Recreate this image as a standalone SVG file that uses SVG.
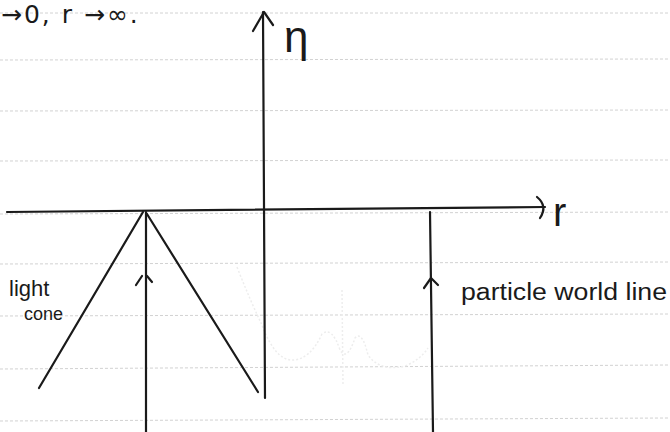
<svg xmlns="http://www.w3.org/2000/svg" width="670" height="432" viewBox="0 0 670 432">
<style>
.rule{stroke:#d2d2d2;stroke-width:1;stroke-dasharray:3 2}
.ink{stroke:#1a1a1a;stroke-width:2.2;fill:none;stroke-linecap:round;stroke-linejoin:round}
.faint{stroke:#ededed;stroke-width:1.5;fill:none;stroke-dasharray:2 2}
.lbl{font-family:"Liberation Sans","DejaVu Sans",sans-serif;fill:#1a1a1a}
.hdr{font-family:"DejaVu Sans","Liberation Sans",sans-serif;fill:#1a1a1a}
</style>
<rect width="670" height="432" fill="#ffffff"/>
<g id="ruled-lines">
<line class="rule" x1="0" y1="13" x2="670" y2="13"/>
<line class="rule" x1="0" y1="60" x2="670" y2="59"/>
<line class="rule" x1="0" y1="111" x2="670" y2="110"/>
<line class="rule" x1="0" y1="161" x2="670" y2="160"/>
<line class="rule" x1="0" y1="214" x2="670" y2="212"/>
<line class="rule" x1="0" y1="264" x2="670" y2="262"/>
<line class="rule" x1="0" y1="316" x2="670" y2="314"/>
<line class="rule" x1="0" y1="369" x2="670" y2="365"/>
<line class="rule" x1="0" y1="421" x2="670" y2="418"/>
</g>
<g id="erased-sketch">
<path class="faint" d="M237,267 Q250,300 262,325 Q275,360 292,360 Q310,360 322,334 Q332,326 340,350 Q347,362 355,338 Q362,330 368,355 Q380,372 405,366 Q420,360 428,348"/>
<line class="faint" x1="342" y1="290" x2="343" y2="385"/>
</g>
<g id="header-text">
<text class="hdr" x="1" y="23" font-size="25" letter-spacing="2">→0, r →∞.</text>
</g>
<g id="connectors">
<path id="r-axis" class="ink" d="M7,212 L545,207"/>
<path class="ink" d="M537,197 Q548,206 540,218"/>
<path id="eta-axis" class="ink" d="M265,398 L263,12"/>
<path class="ink" d="M253,31 L264,12 L273,25"/>
<path id="cone-left" class="ink" d="M143,212 L39,388"/>
<path id="cone-right" class="ink" d="M147,214 L258,392"/>
<path id="worldline-left" class="ink" d="M146,212 L146,432"/>
<path class="ink" d="M136,285 L142,276"/>
<path class="ink" d="M147,276 L152,282"/>
<path id="worldline-right" class="ink" d="M430,212 L433,432"/>
<path class="ink" d="M424,288 L431,278 L438,285"/>
</g>
<g id="label-eta">
<text class="lbl" x="284" y="52" font-size="44">η</text>
</g>
<g id="label-r">
<text class="lbl" x="553" y="226" font-size="40">r</text>
</g>
<g id="label-light-cone">
<text class="lbl" x="9" y="296" font-size="22">light</text>
<text class="lbl" x="24" y="320" font-size="18">cone</text>
</g>
<g id="label-particle">
<text class="lbl" x="461" y="300" font-size="23" textLength="206" lengthAdjust="spacingAndGlyphs">particle world line</text>
</g>
</svg>
